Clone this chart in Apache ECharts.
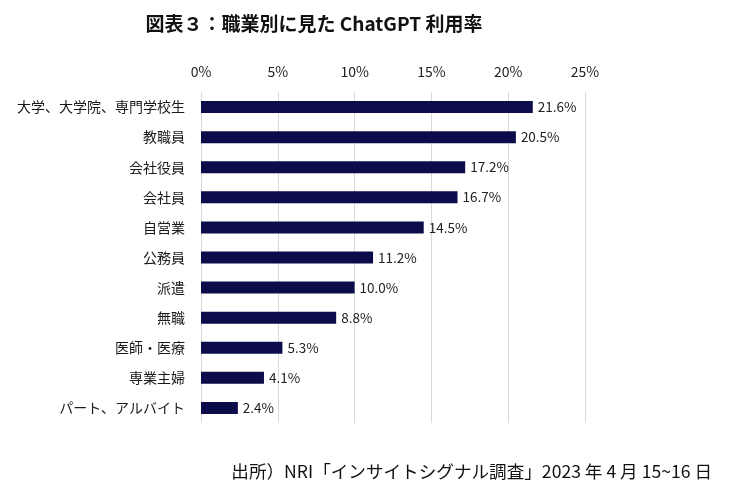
<!DOCTYPE html>
<html><head><meta charset="utf-8">
<script src="https://cdn.jsdelivr.net/npm/echarts@6/dist/echarts.min.js"></script>
<style>html,body{margin:0;padding:0;background:#fff}#c{width:735px;height:499px}</style>
</head><body><div id="c"></div>
<script>
const categories = ["大学、大学院、専門学校生","教職員","会社役員","会社員","自営業","公務員","派遣","無職","医師・医療","専業主婦","パート、アルバイト"];
const values = [21.6,20.5,17.2,16.7,14.5,11.2,10.0,8.8,5.3,4.1,2.4];
const tickLabels = ["0%","5%","10%","15%","20%","25%"];
const font = '"Noto Sans CJK JP","Noto Sans",sans-serif';
const chart = echarts.init(document.getElementById('c'));
chart.setOption({
  animation:false,
  textStyle:{fontFamily:font},
  title:[{text:'図表３：職業別に見た ChatGPT 利用率',left:309,top:9,textAlign:'center',
    textStyle:{fontSize:19,fontWeight:'bold',color:'#111',fontFamily:font}},
    {text:'出所）NRI「インサイトシグナル調査」2023 年 4 月 15~16 日',right:18,top:458,
    textStyle:{fontSize:17.6,fontWeight:'normal',color:'#111',fontFamily:font}}],
  grid:{left:201,top:92,width:384,height:331,containLabel:false},
  xAxis:{type:'value',position:'top',min:0,max:25,interval:5,
    axisLine:{show:false},axisTick:{show:false},
    axisLabel:{formatter:(v)=>tickLabels[Math.round(v/5)],fontSize:14,color:'#222',margin:13,fontFamily:font},
    splitLine:{show:true,lineStyle:{color:'#d9d9d9',width:1}}},
  yAxis:{type:'category',inverse:true,data:categories,
    axisLine:{show:false},axisTick:{show:false},
    axisLabel:{fontSize:14,color:'#1a1a1a',margin:16,fontFamily:font}},
  series:[{type:'bar',data:values,barWidth:12,itemStyle:{color:'#0c0c4b'},
    label:{show:true,position:'right',distance:5,formatter:(p)=>p.value.toFixed(1)+'%',fontSize:13.5,color:'#222',fontFamily:font}}]
});
</script></body></html>
